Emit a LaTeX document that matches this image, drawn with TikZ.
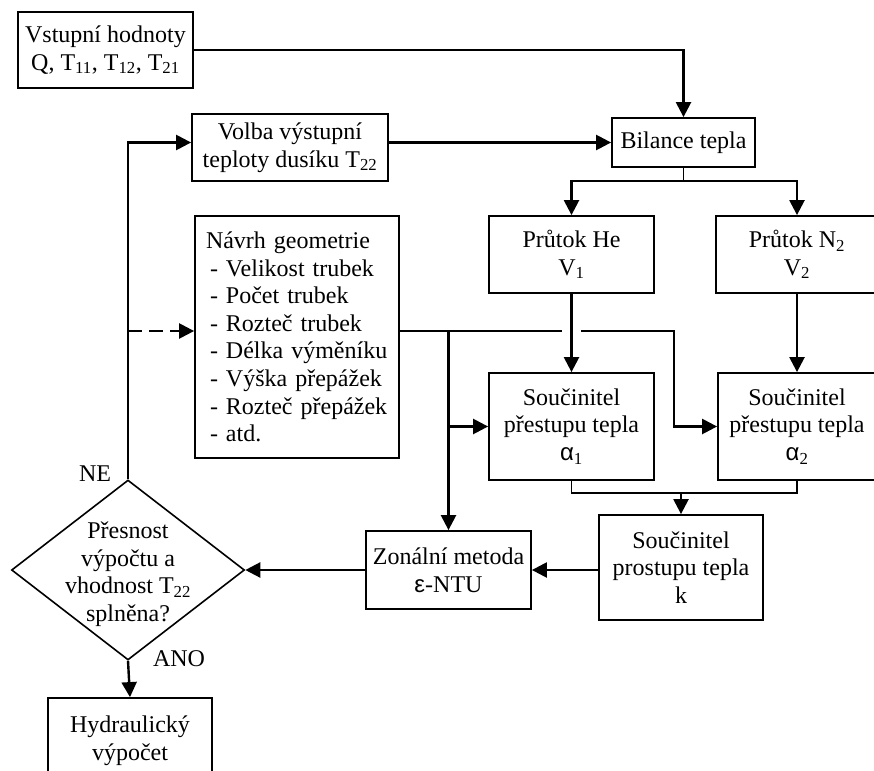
\documentclass[tikz,border=0pt]{standalone}
\usepackage{fontspec}
\setmainfont{Liberation Serif}
\newfontfamily\greekfont{Liberation Sans}
\usetikzlibrary{shapes.geometric,arrows.meta,calc}
\newcommand{\sub}[1]{\textsubscript{#1}}
\newcommand{\galpha}{{\greekfont α}}
\tikzset{
  % obdelnikovy blok s textem na stred
  box/.style={draw, line width=1.8pt, fill=white, align=center,
    inner sep=2pt, font=\fontsize{24}{27.6}\selectfont},
  % blok se seznamem zarovnanym vlevo
  listbox/.style={draw, line width=1.8pt, fill=white, align=left,
    text width=194pt, inner xsep=5pt, minimum height=242pt,
    font=\fontsize{24}{27.6}\selectfont},
  % rozhodovaci kosoctverec (text se sazi zvlast)
  decision/.style={draw, diamond, line width=1.6pt, inner sep=0pt,
    minimum width=233pt, minimum height=180pt},
  txt/.style={align=center, inner sep=0pt, font=\fontsize{24}{27.6}\selectfont},
  conn/.style={line width=1.8pt},
  arr/.style={line width=2.4pt, -{Triangle[length=15pt,width=15pt]}},
}
\newcommand{\blok}[5]{%
  \node[box, minimum width=#3pt, minimum height=#4pt] (#1) at (#2) {#5};}

\begin{document}
\begin{tikzpicture}[x=1pt,y=-1pt]
\useasboundingbox (0,0) rectangle (874,770);
\clip (0,0) rectangle (874,770);

% ----- levy sloupec -----
\blok{vstup}{105.5,50}{175}{76}{Vstupní hodnoty\\Q, T\sub{11}, T\sub{12}, T\sub{21}}
\blok{volba}{290,147.5}{196}{67}{Volba výstupní\\teploty dusíku T\sub{22}}
\node[listbox] (navrh) at (297,337) {\hspace*{6pt}Návrh geometrie\\
  \hspace*{10pt}- Velikost trubek\\
  \hspace*{10pt}- Počet trubek\\
  \hspace*{10pt}- Rozteč trubek\\
  \hspace*{10pt}- Délka výměníku\\
  \hspace*{10pt}- Výška přepážek\\
  \hspace*{10pt}- Rozteč přepážek\\
  \hspace*{10pt}- atd.};
\node[decision] (dec) at (128,570) {};
\node[txt] (dectxt) at ($(dec.center)+(0,4)$) {Přesnost\\výpočtu a\\vhodnost T\sub{22}\\splněna?};
\blok{hydr}{130,741}{164}{86}{Hydraulický\\výpočet}
\node[txt] (ne) at (95,474) {NE};
\node[txt] (ano) at (179,659) {ANO};

% ----- pravy sloupec -----
\blok{bil}{683.5,142.5}{143}{49}{Bilance tepla}
\blok{he}{571.5,254.5}{165}{77}{Průtok He\\V\sub{1}}
\blok{ntwo}{797,254.5}{162}{77}{Průtok N\sub{2}\\V\sub{2}}
\blok{aone}{571.5,426.5}{165}{107}{Součinitel\\přestupu tepla\\\galpha\sub{1}}
\blok{atwo}{797,426.5}{158}{107}{Součinitel\\přestupu tepla\\\galpha\sub{2}}
\blok{kk}{681,567.5}{164}{105}{Součinitel\\prostupu tepla\\k}
\blok{zon}{448.5,570}{165}{78}{Zonální metoda\\{\greekfont ε}-NTU}

% ----- pomocne body -----
\coordinate (feed) at (volba.west |- bil.west);
\coordinate (split) at (448.5,331);
\coordinate (ohyb) at (674,331);
\coordinate (gapL) at ($(he.south |- split)+(-9.5,0)$);
\coordinate (gapR) at ($(he.south |- split)+(9.5,0)$);
\coordinate (fork) at ($(bil.south)+(0,13)$);
\coordinate (merge) at ($(aone.south)+(0,12)$);

% ----- spojnice -----
\draw[arr] (vstup.east) -| (bil.north);
\draw[arr] (volba.east |- bil.west) -- (bil.west);
\draw[arr] (dec.north) |- (feed);
\draw[arr,dash pattern=on 14pt off 7pt] (dec.north |- split) -- (navrh.west |- split);
\draw[conn] (bil.south) -- (fork);
\draw[arr] (fork) -| (he.north);
\draw[arr] (fork) -| (ntwo.north);
\draw[arr] (he.south) -- (aone.north);
\draw[arr] (ntwo.south) -- (atwo.north);
% geometrie do obou soucinitelu a do zonalni metody
\draw[conn] (navrh.east |- split) -- (gapL);
\draw[arr] (gapR) -- (ohyb) |- (atwo.west);
\draw[arr] (split) -- (zon.north);
\draw[arr] (split |- aone.west) -- (aone.west);
% soucinitele prestupu do prostupu
\draw[conn] (aone.south) -- (merge) -| (atwo.south);
\draw[arr] (merge -| kk.north) -- (kk.north);
\draw[arr] (kk.west |- zon.east) -- (zon.east);
\draw[arr] (zon.west) -- (dec.east);
\draw[arr] (dec.south) -- (hydr.north);

\end{tikzpicture}
\end{document}
